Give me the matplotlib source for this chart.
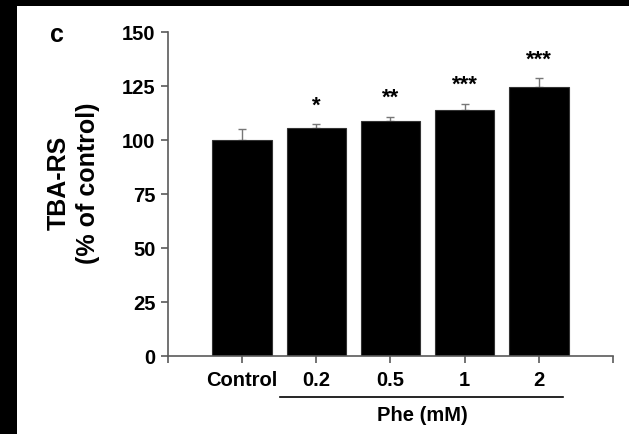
import matplotlib
matplotlib.use("Agg")
import matplotlib.pyplot as plt
from matplotlib.patches import Rectangle

plt.rcParams['font.family'] = ['Liberation Sans', 'DejaVu Sans']
plt.rcParams['font.weight'] = 'bold'

groups = ['Control', '0.2', '0.5', '1', '2']
tba_rs = [100.0, 105.4, 108.8, 113.7, 124.4]
sem = [5.3, 1.9, 2.0, 3.2, 4.2]
signif = ['', '*', '**', '***', '***']

axis_grey = '#5a5a5a'

fig = plt.figure(figsize=(6.29, 4.34), dpi=100)
fig.patch.set_facecolor('black')
# white panel inside the dark border
fig.add_artist(Rectangle((17 / 629, 0), 1, 1 - 6 / 434, transform=fig.transFigure,
                         facecolor='white', edgecolor='none', zorder=-10))

ax = fig.add_axes([0.267, 0.1797, 0.7076, 0.7463])
ax.set_facecolor('white')

x = list(range(len(groups)))
ax.bar(x, tba_rs, width=0.8, color='black', edgecolor='#333333', linewidth=0.8, zorder=2)
ax.errorbar(x, tba_rs, yerr=[[0] * len(sem), sem], fmt='none', ecolor='#777777',
            elinewidth=1.0, capsize=3, capthick=1.0, zorder=1)

for xi, v, e, s in zip(x, tba_rs, sem, signif):
    if s:
        ax.annotate(s, (xi, v + e), xytext=(0, 13), textcoords='offset points',
                    ha='center', va='center', fontsize=16, fontweight='bold')

ax.set_xlim(-1, 5)
ax.set_ylim(0, 150)
ax.set_yticks([0, 25, 50, 75, 100, 125, 150])
ax.set_xticks([-1] + x + [5])
ax.set_xticklabels([''] + groups + [''])

for side in ['top', 'right']:
    ax.spines[side].set_visible(False)
for side in ['left', 'bottom']:
    ax.spines[side].set_color(axis_grey)
    ax.spines[side].set_linewidth(1.2)

ax.tick_params(axis='both', colors=axis_grey, labelcolor='black', length=5,
               width=1.2, labelsize=14.5)
ax.tick_params(axis='x', pad=6)
ax.tick_params(axis='y', pad=4)
for lab in ax.get_xticklabels() + ax.get_yticklabels():
    lab.set_fontweight('bold')

ax.set_ylabel('TBA-RS\n(% of control)', fontsize=18, fontweight='bold',
              linespacing=1.25)
ax.yaxis.set_label_coords(-0.153, 0.534)

# Phe concentration bracket under the dose groups
trans = ax.get_xaxis_transform()
ax.plot([0.51, 4.32], [-0.127, -0.127], transform=trans, color='black',
        linewidth=1.2, clip_on=False)
ax.text(2.43, -0.185, 'Phe (mM)', transform=trans, ha='center', va='center',
        fontsize=14.5, fontweight='bold')

fig.text(57 / 629, 1 - 35 / 434, 'c', ha='center', va='center',
         fontsize=18, fontweight='bold')

fig.savefig('out.png', dpi=100, facecolor=fig.get_facecolor())
